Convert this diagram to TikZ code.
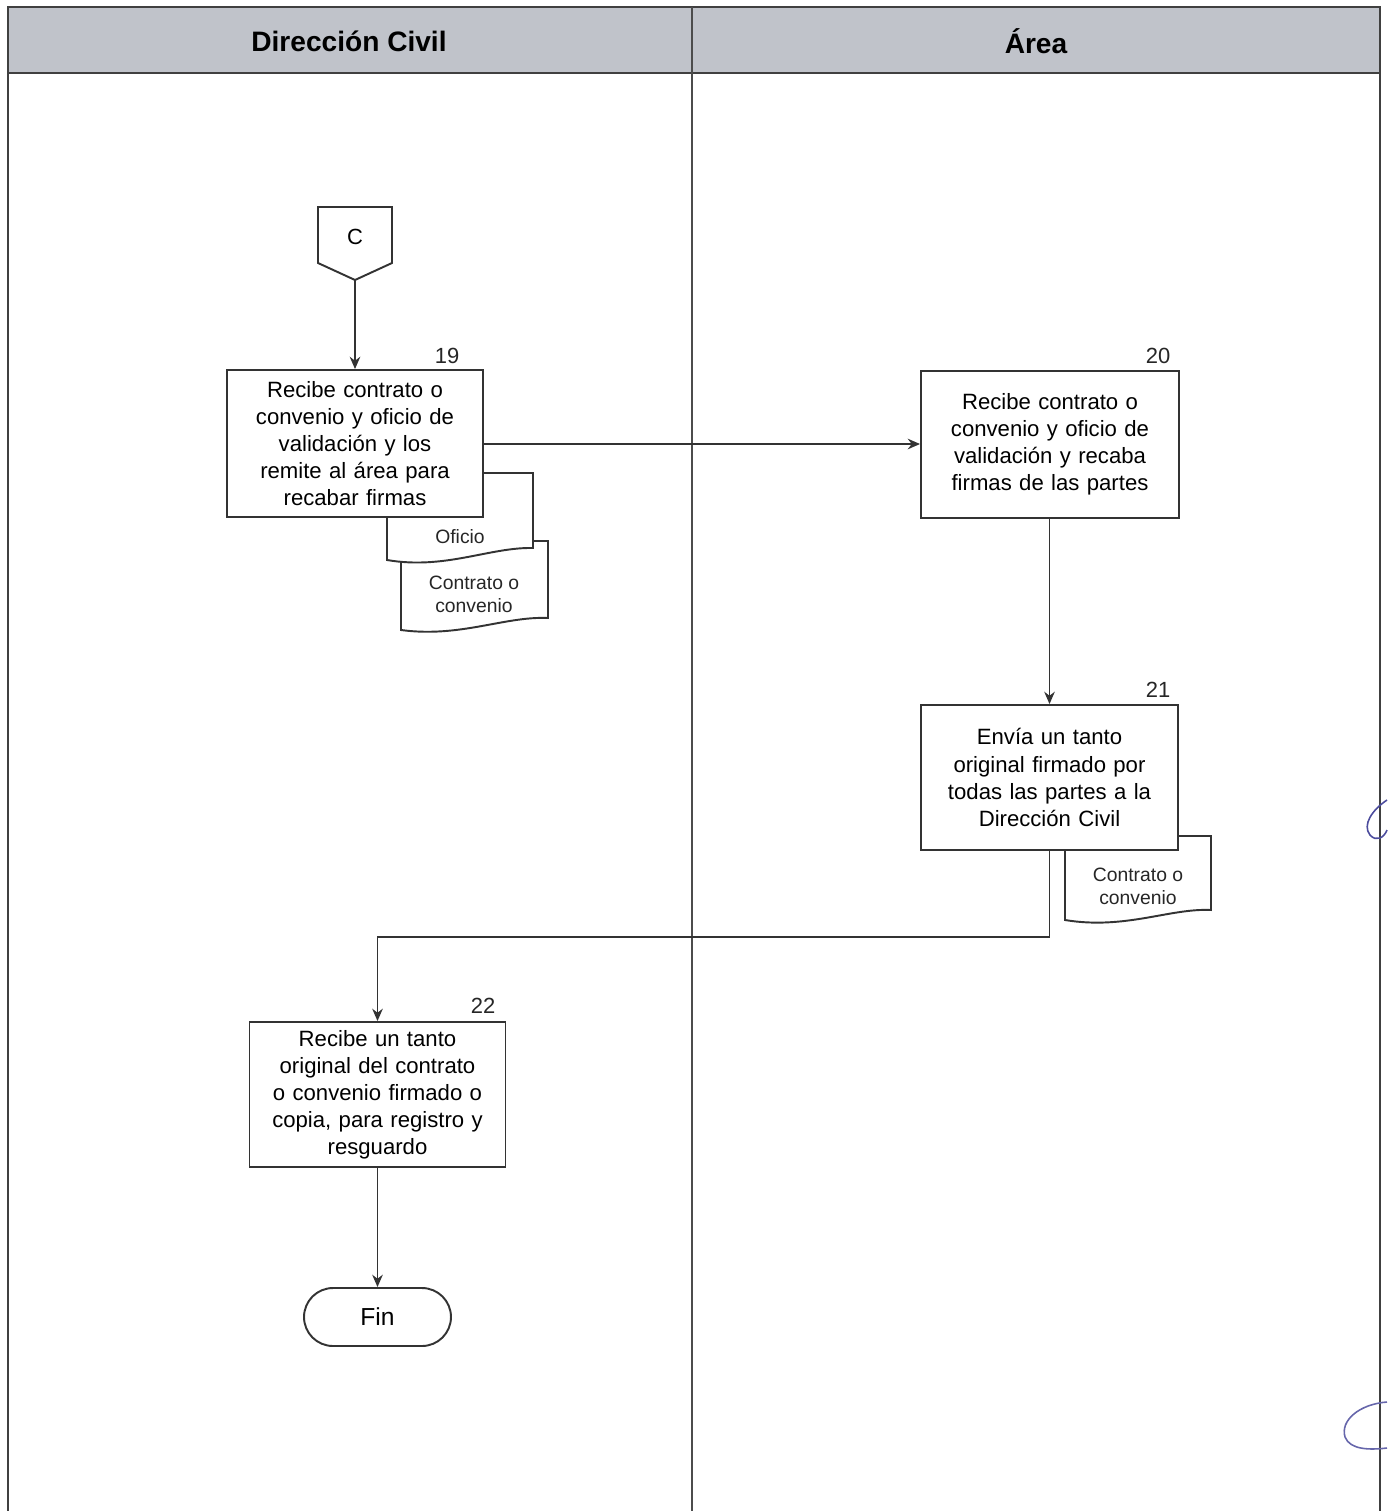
\documentclass[tikz,border=0pt]{standalone}
\usepackage{fontspec}
\setmainfont{Liberation Sans}
\usetikzlibrary{arrows.meta,shapes.misc}
\definecolor{headfill}{RGB}{192,195,202}
\begin{document}
\begin{tikzpicture}[x=0.02cm,y=-0.02cm,
  line/.style={draw=black!80,line width=1.1pt},
  arr/.style={line,-{Stealth[length=7pt,width=6pt]}},
  procbox/.style={line,fill=white,rectangle,align=center,inner sep=0pt,
    font=\fontsize{12.6}{15.4}\selectfont},
  stepnum/.style={font=\fontsize{12.5}{14}\selectfont,text=black!85},
  doctext/.style={align=center,font=\fontsize{11}{13}\selectfont,text=black!85},
  lanehead/.style={font=\bfseries\fontsize{16}{18}\selectfont}]
\useasboundingbox (0,0) rectangle (1387,1511);
% swimlane frame
\fill[headfill] (8,7) rectangle (1380,73);
\draw[line width=1.1pt,black!75] (8,1511) -- (8,7) -- (1380,7) -- (1380,1511);
\draw[line width=1.3pt,black!75] (8,73) -- (1380,73);
\draw[line width=0.8pt,black!70] (692,7) -- (692,1511);
\node[lanehead] (laneA) at (349,41) {Dirección Civil};
\node[lanehead] (laneB) at (1036,41) {Área};

% off-page connector C
\draw[line,fill=white] (318,207) -- (392,207) -- (392,263) -- (355,280) -- (318,263) -- cycle;
\node[font=\fontsize{12.5}{14}\selectfont] (c) at (355,237) {C};
\coordinate (cbot) at (355,280);

% documents attached to step 19
\draw[line,fill=white] (401,541) -- (548,541) -- (548,618)
  .. controls (505,616) and (460,638) .. (401,630) -- cycle;
\node[doctext] (doc2) at (474,594) {Contrato o\\convenio};
\draw[line,fill=white] (387,473) -- (533,473) -- (533,548)
  .. controls (490,547) and (445,570) .. (387,560) -- cycle;
\node[doctext] (doc1) at (460,537) {Oficio};

% documents attached to step 21
\draw[line,fill=white] (1065,836) -- (1211,836) -- (1211,910)
  .. controls (1170,908) and (1125,930) .. (1065,920) -- cycle;
\node[doctext] (doc3) at (1138,886) {Contrato o\\convenio};

% process steps
\node[procbox,minimum width=5.12cm,minimum height=2.94cm,text width=4.8cm] (b19) at (355,443.5)
  {Recibe contrato o\\convenio y oficio de\\validación y los\\remite al área para\\recabar firmas};
\node[stepnum] (n19) at (447,356) {19};
\node[procbox,minimum width=5.16cm,minimum height=2.94cm,text width=4.8cm] (b20) at (1050,444.5)
  {Recibe contrato o\\convenio y oficio de\\validación y recaba\\firmas de las partes};
\node[stepnum] (n20) at (1158,356) {20};
\node[procbox,minimum width=5.14cm,minimum height=2.9cm,text width=4.8cm] (b21) at (1049.5,777.5)
  {Envía un tanto\\original firmado por\\todas las partes a la\\Dirección Civil};
\node[stepnum] (n21) at (1158,690) {21};
\node[procbox,minimum width=5.12cm,minimum height=2.9cm,text width=4.8cm] (b22) at (377.5,1094.5)
  {Recibe un tanto\\original del contrato\\o convenio firmado o\\copia, para registro y\\resguardo};
\node[stepnum] (n22) at (483,1006) {22};
\node[line,fill=white,rounded rectangle,minimum width=2.94cm,minimum height=1.16cm,inner sep=0pt,
  font=\fontsize{14}{16}\selectfont] (fin) at (377.5,1317) {Fin};

% flow
\draw[arr] (cbot) -- (b19.north);
\draw[arr] (b19.east |- 0,444) -- (b20.west |- 0,444);
\draw[arr] (b21.north |- b20.south) -- (b21.north);
\draw[arr] (b21.south) -- ++(0,86) -| (b22.north);
\draw[arr] (b22.south) -- (fin.north);

% handwritten marks at the right margin
\draw[blue!45!black!70,line width=0.9pt] (1387,800) .. controls (1372,810) and (1362,825) .. (1370,835)
  .. controls (1376,842) and (1384,838) .. (1387,830);
\draw[blue!45!black!60,line width=0.9pt] (1387,1402) .. controls (1360,1404) and (1340,1420) .. (1345,1437)
  .. controls (1350,1450) and (1370,1450) .. (1387,1448);
\end{tikzpicture}
\end{document}
